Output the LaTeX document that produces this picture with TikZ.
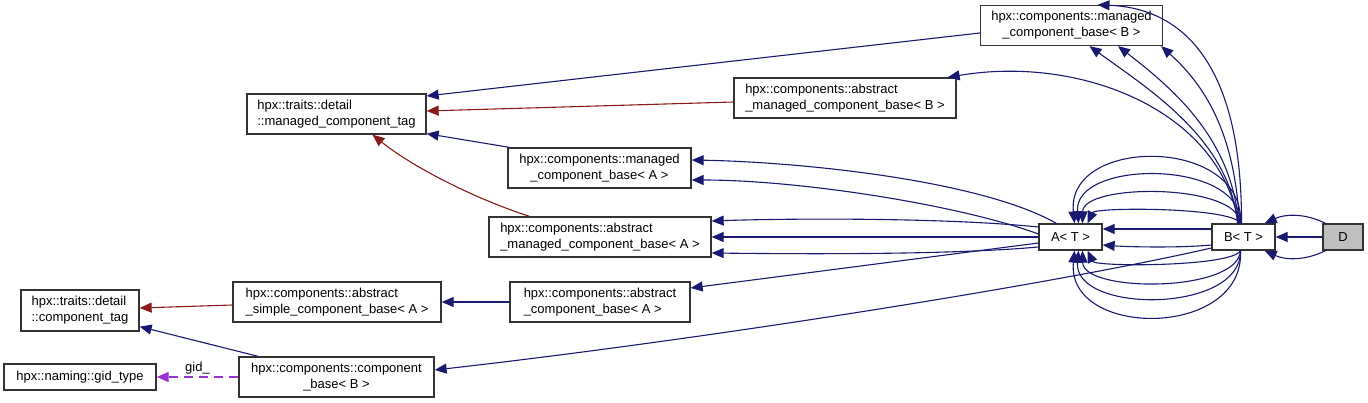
\documentclass[tikz,border=0pt]{standalone}
\usepackage{fontspec}
\setmainfont{Liberation Sans}
\usetikzlibrary{arrows.meta,calc}
\definecolor{eblue}{HTML}{191970}
\definecolor{ered}{HTML}{8B1A1A}
\definecolor{epurple}{HTML}{9A32CD}
\definecolor{bord}{HTML}{333333}
\definecolor{dfill}{HTML}{BFBFBF}
\begin{document}
\begin{tikzpicture}[x=1pt,y=-1pt,
  cls/.style={draw=bord, line width=1.3pt, fill=white, inner sep=0pt,
    font=\fontsize{13}{16}\selectfont, minimum height=40pt},
  cls1/.style={cls, minimum height=26pt},
  inh/.style={-{Triangle[length=12pt,width=10pt]}, line width=1.1pt, draw=eblue, fill=none},
  inhr/.style={inh, draw=ered},
  usage/.style={-{Triangle[length=12pt,width=10pt]}, line width=1.1pt, draw=epurple, dash pattern=on 9pt off 6pt},
  lbl/.style={font=\fontsize{13}{16}\selectfont, inner sep=0pt}]
\useasboundingbox (0,0) rectangle (1368,403);

% nodes
\node[cls, minimum width=182pt, align=center] (mcbB) at (1071.5,25.5) {hpx::components::managed\\\_component\_base< B >};
\node[cls, minimum width=222pt, align=left] (amcbB) at (845,98) {hpx::components::abstract\\\_managed\_component\_base< B >};
\node[cls, minimum width=179pt, align=left] (mct) at (336.5,114) {hpx::traits::detail\\::managed\_component\_tag};
\node[cls, minimum width=183pt, align=center] (mcbA) at (599.5,168) {hpx::components::managed\\\_component\_base< A >};
\node[cls, minimum width=222pt, align=left] (amcbA) at (600,237) {hpx::components::abstract\\\_managed\_component\_base< A >};
\node[cls1, minimum width=63pt] (A) at (1070.5,237) {A< T >};
\node[cls1, minimum width=63pt] (B) at (1243.5,237) {B< T >};
\node[cls1, minimum width=40pt, fill=dfill] (D) at (1343,237) {D};
\node[cls, minimum width=208pt, align=left] (ascbA) at (337,302) {hpx::components::abstract\\\_simple\_component\_base< A >};
\node[cls, minimum width=180pt, align=left] (acbA) at (600,302) {hpx::components::abstract\\\_component\_base< A >};
\node[cls, minimum width=118pt, minimum height=41pt, align=left] (ctag) at (80,310.5) {hpx::traits::detail\\::component\_tag};
\node[cls1, minimum width=152pt] (gid) at (80,377) {hpx::naming::gid\_type};
\node[cls, minimum width=195pt, align=center] (cbB) at (336.5,377) {hpx::components::component\\\_base< B >};

% edges to managed_component_tag
\draw[inh] ($(mcbB.west)+(0,7.5)$) -- ($(mct.east)+(0,-18)$);
\draw[inhr] ($(amcbB.west)+(0,4)$) -- ($(mct.east)+(0,-3)$);
\draw[inh] ($(mcbA.north west)+(2,0)$) -- ($(mct.south east)+(0,-1)$);
\draw[inhr] ($(amcbA.north west)+(41,0)$) .. controls (470,197) and (410,165) .. ($(mct.south)+(36,0)$);

% A -> managed_component_base<A>
\draw[inh] ($(A.north west)+(18,0)$) .. controls (980,180) and (800,162) .. ($(mcbA.east)+(0,-8)$);
\draw[inh] ($(A.west)+(0,-3)$) .. controls (960,205) and (800,180) .. ($(mcbA.east)+(0,12)$);

% A -> abstract_managed_component_base<A>
\draw[inh] ($(A.west)+(0,-10)$) .. controls (950,218) and (800,218) .. ($(amcbA.east)+(0,-16)$);
\draw[inh] (A.west) -- (amcbA.east);
\draw[inh] ($(A.west)+(0,10)$) .. controls (950,255) and (800,254) .. ($(amcbA.east)+(0,16)$);

% A -> abstract_component_base<A>
\draw[inh] ($(A.west)+(0,6)$) -- ($(acbA.east)+(0,-14)$);

% lower-left group
\draw[inh] (acbA.west) -- (ascbA.east);
\draw[inhr] ($(ascbA.west)+(0,3)$) -- ($(ctag.east)+(0,-2.5)$);
\draw[inh] ($(cbB.north west)+(20,0)$) -- ($(ctag.south east)+(0,-5)$);
\draw[usage] (cbB.west) -- (gid.east) node[lbl, pos=0.5, above=2pt] (gidlbl) {gid\_};

% B -> component_base<B>
\draw[inh] ($(B.west)+(0,11)$) .. controls (1050,285) and (700,340) .. ($(cbB.east)+(0,-7)$);

% B -> A (straight)
\draw[inh] ($(B.west)+(0,-8)$) -- ($(A.east)+(0,-8)$);
\draw[inh] ($(B.west)+(0,8)$) .. controls (1180,248) and (1130,247) .. ($(A.east)+(0,8)$);

% B -> A (arcs above)
\draw[inh] ($(B.north)+(-3,0)$) .. controls (1245,136) and (1066,136) .. ($(A.north)+(4,0)$);
\draw[inh] ($(B.north)+(-3,0)$) .. controls (1242,159) and (1073,159) .. ($(A.north)+(8,0)$);
\draw[inh] ($(B.north)+(-3,0)$) .. controls (1238,183) and (1083,183) .. ($(A.north)+(12,0)$);
\draw[inh] ($(B.north)+(-3,0)$) .. controls (1232,207) and (1095,207) .. ($(A.north)+(17,0)$);

% B -> A (arcs below)
\draw[inh] ($(B.south)+(-3,0)$) .. controls (1232,267) and (1095,267) .. ($(A.south)+(17,0)$);
\draw[inh] ($(B.south)+(-3,0)$) .. controls (1238,293) and (1083,293) .. ($(A.south)+(12,0)$);
\draw[inh] ($(B.south)+(-3,0)$) .. controls (1242,314) and (1073,314) .. ($(A.south)+(8,0)$);
\draw[inh] ($(B.south)+(-3,0)$) .. controls (1245,339) and (1066,339) .. ($(A.south)+(4,0)$);

% B -> managed_component_base<B>
\draw[inh] ($(B.north)+(-6,0)$) .. controls (1230,140) and (1150,90) .. ($(mcbB.south)+(18,0)$);
\draw[inh] ($(B.north)+(-5,0)$) .. controls (1232,140) and (1175,90) .. ($(mcbB.south)+(46.5,0)$);
\draw[inh] ($(B.north)+(-4,0)$) .. controls (1235,140) and (1210,90) .. ($(mcbB.south east)+(-2,0)$);
\draw[inh] ($(B.north)+(-2,0)$) .. controls (1242,60) and (1180,8) .. ($(mcbB.north)+(26,0)$);

% B -> abstract_managed_component_base<B>
\draw[inh] ($(B.north)+(-5,0)$) .. controls (1220,110) and (1080,55) .. ($(amcbB.north east)+(-9,0)$);

% D -> B
\draw[inh] (D.west) -- (B.east);
\draw[inh] ($(D.north west)+(3,0)$) .. controls (1305,213) and (1285,214) .. ($(B.north east)+(-11,0)$);
\draw[inh] ($(D.south west)+(3,0)$) .. controls (1305,261) and (1285,260) .. ($(B.south east)+(-11,0)$);
\end{tikzpicture}
\end{document}
